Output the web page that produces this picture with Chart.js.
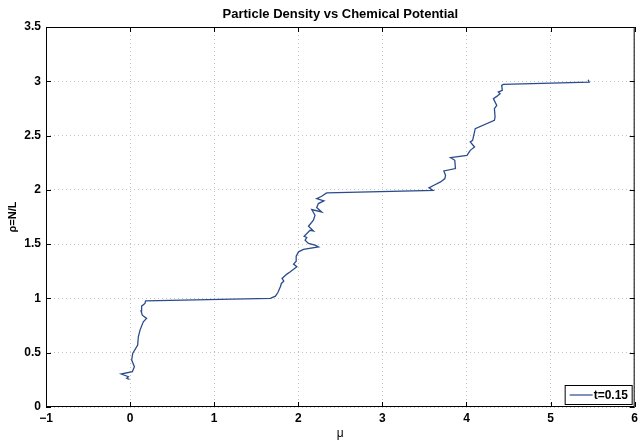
<!DOCTYPE html>
<html>
<head>
<meta charset="utf-8">
<script src="https://cdn.jsdelivr.net/npm/chart.js@4.4.0/dist/chart.umd.min.js"></script>
<style>
html,body{margin:0;padding:0;background:#fff;}
#wrap{width:642px;height:441px;}
</style>
</head>
<body>
<div id="wrap"><canvas id="c" width="642" height="441"></canvas></div>
<script>
// chemical potential mu and density rho
const muValues=[-0.008,-0.04,-0.02,-0.106,0.027,0.051,0.019,0.031,0.09,0.098,0.118,0.157,0.196,0.145,0.13,0.137,0.177,0.184,
1.669,1.728,1.756,1.787,1.799,1.827,1.807,1.865,1.905,1.983,1.944,1.975,1.975,2.003,2.062,2.239,2.199,2.121,2.081,2.101,2.069,2.140,2.180,2.121,2.180,2.199,2.160,2.278,2.219,2.239,2.305,2.219,2.278,2.337,
3.601,3.554,3.613,3.692,3.743,3.751,3.731,3.869,3.861,3.810,4.006,4.045,4.096,4.045,4.073,4.104,4.332,4.340,4.332,4.360,4.320,4.360,4.399,4.379,4.426,4.419,4.438,5.459,5.447];
const rhoValues=[0.255,0.264,0.279,0.304,0.325,0.371,0.432,0.494,0.570,0.647,0.708,0.785,0.816,0.846,0.886,0.929,0.954,0.978,
1.0,1.021,1.052,1.107,1.138,1.159,1.184,1.224,1.245,1.291,1.316,1.343,1.389,1.429,1.451,1.475,1.490,1.506,1.536,1.561,1.573,1.628,1.622,1.665,1.720,1.766,1.819,1.797,1.837,1.874,1.898,1.920,1.941,1.972,
1.996,2.018,2.042,2.073,2.104,2.134,2.174,2.196,2.272,2.297,2.318,2.364,2.395,2.441,2.456,2.564,2.640,2.671,2.748,2.778,2.840,2.861,2.886,2.901,2.916,2.962,2.971,2.993,3.015];
const seriesLabel="t=0.15";
const chartTitle="Particle Density vs Chemical Potential";
const xTicks=[-1,0,1,2,3,4,5,6];
const yTicks=[0,0.5,1,1.5,2,2.5,3,3.5];

const FONT="'Liberation Sans', Arial, Helvetica, sans-serif";
const lineColor="#2b4c8c";

// matlab style frame, inward ticks, title over the axes and legend box
const framePlugin={
id:"frame",
afterDraw(chart){
let ctx=chart.ctx,a=chart.chartArea,xs=chart.scales.x,ys=chart.scales.y;
ctx.save();
ctx.strokeStyle="#000";ctx.lineWidth=1;
ctx.strokeRect(a.left+0.5,a.top+0.5,a.right-a.left-1,a.bottom-a.top-1);
ctx.beginPath();
xTicks.forEach(v=>{
let px=Math.round(xs.getPixelForValue(v))+0.5;
ctx.moveTo(px,a.bottom);ctx.lineTo(px,a.bottom-5);
ctx.moveTo(px,a.top);ctx.lineTo(px,a.top+5);
});
yTicks.forEach(v=>{
let py=Math.round(ys.getPixelForValue(v))+0.5;
ctx.moveTo(a.left,py);ctx.lineTo(a.left+5,py);
ctx.moveTo(a.right,py);ctx.lineTo(a.right-5,py);
});
ctx.stroke();
// title
ctx.fillStyle="#000";ctx.font="bold 13px "+FONT;
ctx.textAlign="center";ctx.textBaseline="alphabetic";
ctx.fillText(chartTitle,(a.left+a.right)/2,18);
// legend
let bw=67,bh=19;
let bx=a.right-bw-3,by=a.bottom-bh-3;
ctx.fillStyle="#fff";
ctx.fillRect(bx,by,bw,bh);
ctx.strokeStyle="#000";
ctx.strokeRect(bx+0.5,by+0.5,bw,bh);
ctx.strokeStyle=lineColor;ctx.lineWidth=1.2;
ctx.beginPath();ctx.moveTo(bx+5,by+bh/2+0.5);ctx.lineTo(bx+28,by+bh/2+0.5);ctx.stroke();
ctx.fillStyle="#000";ctx.font="bold 12px "+FONT;
ctx.textBaseline="middle";ctx.textAlign="left";
ctx.fillText(seriesLabel,bx+29,by+bh/2+1);
ctx.restore();
}
};

new Chart(document.getElementById("c"),{
type:"scatter",
data:{datasets:[{
label:seriesLabel,
data:muValues.map((x,i)=>({x:x,y:rhoValues[i]})),
showLine:true,
borderColor:lineColor,
borderWidth:1.3,
pointRadius:0,
fill:false,
tension:0
}]},
options:{
responsive:false,
animation:false,
layout:{padding:{left:0,right:2,top:27,bottom:0}},
plugins:{
legend:{display:false},
tooltip:{enabled:false},
title:{display:false}
},
scales:{
x:{
type:"linear",min:-1,max:6,
afterBuildTicks:s=>{s.ticks=xTicks.map(v=>({value:v}));},
afterFit:s=>{s.height=34;},
ticks:{color:"#000",font:{family:FONT,size:12,weight:"bold"},padding:4,maxRotation:0,
callback:v=>String(v).replace("-","\u2212")},
grid:{color:"#c4c4c4",drawTicks:false,lineWidth:1},
border:{display:false,dash:[1,3]},
title:{display:true,text:"\u03bc",color:"#000",font:{family:FONT,size:12},padding:{top:0,bottom:0}}
},
y:{
type:"linear",min:0,max:3.5,
afterBuildTicks:s=>{s.ticks=yTicks.map(v=>({value:v}));},
afterFit:s=>{s.width=46;},
ticks:{color:"#000",font:{family:FONT,size:12,weight:"bold"},padding:5,callback:v=>String(v)},
grid:{color:"#c4c4c4",drawTicks:false,lineWidth:1},
border:{display:false,dash:[1,3]},
title:{display:true,text:"\u03c1=N/L",color:"#000",font:{family:FONT,size:11,weight:"bold"},padding:{top:6,bottom:0}}
}
}
},
plugins:[framePlugin]
});
</script>
</body>
</html>
